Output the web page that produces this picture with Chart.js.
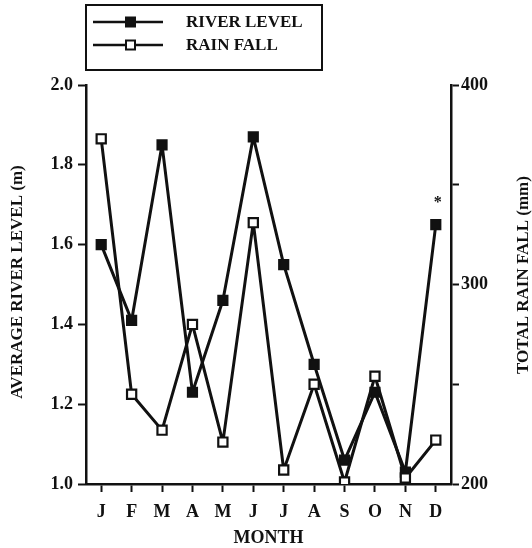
<!DOCTYPE html>
<html>
<head>
<meta charset="utf-8">
<script src="https://cdn.jsdelivr.net/npm/chart.js@4.4.1/dist/chart.umd.min.js"></script>
<style>
  html, body { margin: 0; padding: 0; background: #fff; }
  #wrap { width: 532px; height: 548px; position: relative; }
</style>
</head>
<body>
<div id="wrap"><canvas id="c" width="532" height="548"></canvas></div>
<script>
// Monthly averages: river level (m, left axis) and total rain fall (mm, right axis)
const months = ['J', 'F', 'M', 'A', 'M', 'J', 'J', 'A', 'S', 'O', 'N', 'D'];
const riverLevel = [1.60, 1.41, 1.85, 1.23, 1.46, 1.87, 1.55, 1.30, 1.06, 1.23, 1.03, 1.65];
const rainFall = [373, 245, 227, 280, 221, 331, 207, 250, 201, 254, 203, 222];
const riverTicks = [1.0, 1.2, 1.4, 1.6, 1.8, 2.0];
const rainTicks = [200, 250, 300, 350, 400];
const rainLabelled = [200, 300, 400];

const FONT = '"Liberation Serif", "Times New Roman", serif';
const INK = '#111';

// Legend box, axis titles and the significance mark over December
const annotations = {
  id: 'annotations',
  afterDraw(chart) {
    const ctx = chart.ctx;
    const area = chart.chartArea;
    const xs = chart.scales.x, ys = chart.scales.y;
    ctx.save();
    ctx.fillStyle = INK;
    ctx.strokeStyle = INK;

    // legend
    ctx.lineWidth = 2;
    ctx.strokeRect(86, 5, 236, 65);
    const rows = [
      { y: 22, text: 'RIVER LEVEL', fill: INK },
      { y: 45, text: 'RAIN FALL', fill: '#fff' }
    ];
    rows.forEach(r => {
      ctx.lineWidth = 2.5;
      ctx.beginPath();
      ctx.moveTo(93, r.y);
      ctx.lineTo(163, r.y);
      ctx.stroke();
      ctx.fillStyle = r.fill;
      ctx.fillRect(126, r.y - 4.5, 9, 9);
      ctx.lineWidth = 2;
      ctx.strokeRect(126, r.y - 4.5, 9, 9);
      ctx.fillStyle = INK;
      ctx.font = 'bold 17px ' + FONT;
      ctx.textAlign = 'left';
      ctx.textBaseline = 'middle';
      ctx.fillText(r.text, 186, r.y + 1);
    });

    // axis titles
    ctx.font = 'bold 17px ' + FONT;
    ctx.textAlign = 'center';
    ctx.textBaseline = 'middle';
    ctx.save();
    ctx.translate(18, 282);
    ctx.rotate(-Math.PI / 2);
    ctx.fillText('AVERAGE RIVER LEVEL (m)', 0, 0);
    ctx.restore();
    ctx.save();
    ctx.translate(524, 275);
    ctx.rotate(-Math.PI / 2);
    ctx.fillText('TOTAL RAIN FALL (mm)', 0, 0);
    ctx.restore();

    ctx.font = 'bold 18px ' + FONT;
    ctx.fillText('MONTH', (area.left + area.right) / 2, 538);

    // asterisk above the December river level
    const last = riverLevel.length - 1;
    ctx.font = 'bold 16px ' + FONT;
    ctx.fillText('*', xs.getPixelForValue(last) + 2, ys.getPixelForValue(riverLevel[last]) - 22);
    ctx.restore();
  }
};

const axisGrid = {
  display: true,
  drawOnChartArea: false,
  drawTicks: true,
  tickLength: 8,
  tickWidth: 2,
  color: INK
};
const axisBorder = { display: true, color: INK, width: 2.5 };
const tickFont = { family: FONT, size: 18, weight: 'bold' };

new Chart(document.getElementById('c'), {
  type: 'line',
  data: {
    labels: months,
    datasets: [
      {
        label: 'RAIN FALL',
        data: rainFall,
        yAxisID: 'y1',
        borderColor: INK,
        borderWidth: 3,
        borderJoinStyle: 'round',
        backgroundColor: '#fff',
        pointStyle: 'rect',
        pointRadius: 6.5,
        pointBorderWidth: 2.2,
        pointBackgroundColor: '#fff',
        pointBorderColor: INK,
        tension: 0
      },
      {
        label: 'RIVER LEVEL',
        data: riverLevel,
        yAxisID: 'y',
        borderColor: INK,
        borderWidth: 3,
        borderJoinStyle: 'round',
        backgroundColor: INK,
        pointStyle: 'rect',
        pointRadius: 6.5,
        pointBorderWidth: 2,
        pointBackgroundColor: INK,
        pointBorderColor: INK,
        tension: 0
      }
    ]
  },
  options: {
    responsive: false,
    animation: false,
    layout: { padding: { top: 85, left: 0, right: 0, bottom: 0 } },
    plugins: { legend: { display: false }, tooltip: { enabled: false } },
    scales: {
      x: {
        type: 'category',
        offset: true,
        grid: Object.assign({}, axisGrid, { offset: false }),
        border: axisBorder,
        ticks: { color: INK, font: tickFont, padding: 10, maxRotation: 0, autoSkip: false },
        afterFit(s) { s.height = 64; }
      },
      y: {
        position: 'left',
        min: riverTicks[0],
        max: riverTicks[riverTicks.length - 1],
        afterBuildTicks(s) { s.ticks = riverTicks.map(v => ({ value: v })); },
        grid: axisGrid,
        border: axisBorder,
        ticks: { color: INK, font: tickFont, padding: 5, callback: v => Number(v).toFixed(1) },
        afterFit(s) { s.width = 86; }
      },
      y1: {
        position: 'right',
        min: rainTicks[0],
        max: rainTicks[rainTicks.length - 1],
        afterBuildTicks(s) { s.ticks = rainTicks.map(v => ({ value: v })); },
        grid: axisGrid,
        border: axisBorder,
        ticks: { color: INK, font: tickFont, padding: 2, callback: v => rainLabelled.includes(v) ? String(v) : '' },
        afterFit(s) { s.width = 81; }
      }
    }
  },
  plugins: [annotations]
});
</script>
</body>
</html>
